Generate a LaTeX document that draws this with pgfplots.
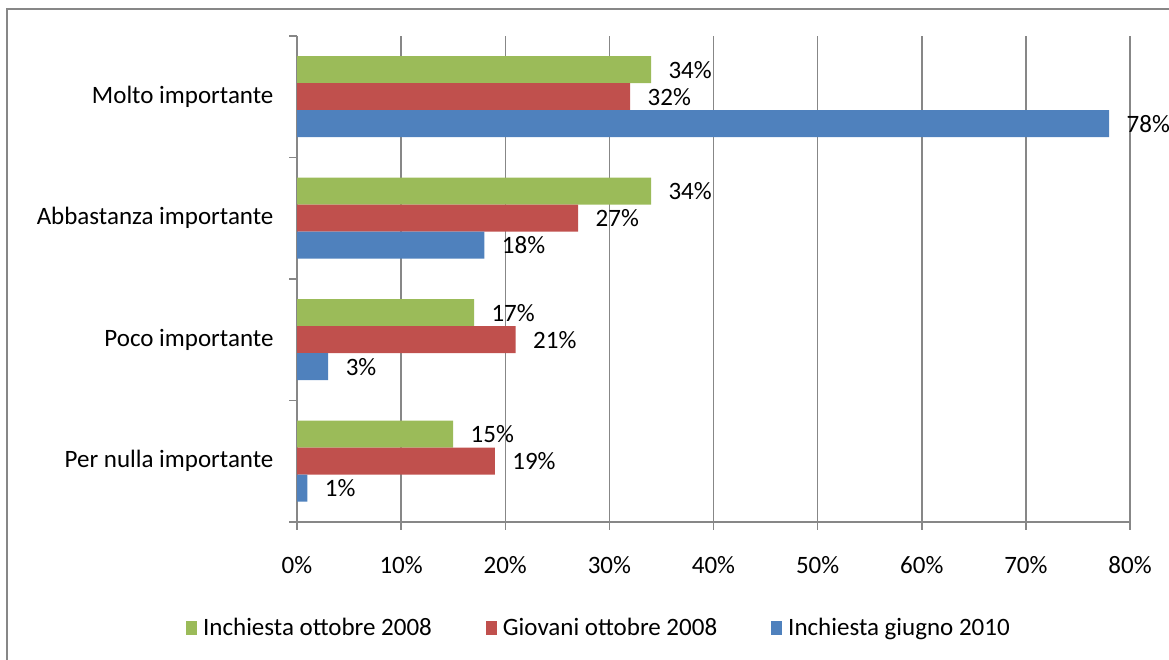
\documentclass[border=0pt]{standalone}
\usepackage{pgfplots}
\pgfplotsset{compat=1.18}
\usepackage{fontspec}
\setmainfont{Carlito}
\definecolor{cgreen}{HTML}{9BBB59}
\definecolor{cred}{HTML}{C0504D}
\definecolor{cblue}{HTML}{4F81BD}
\definecolor{cgrid}{HTML}{878787}
\begin{document}
\begin{tikzpicture}[x=1pt,y=1pt,font=\fontsize{25}{30}\selectfont]
\useasboundingbox (0,0) rectangle (1169,660);
\draw[cgrid, line width=1.5pt] (7,651) rectangle (1200,-20);
\begin{axis}[
  at={(297pt,138pt)}, anchor=south west,
  scale only axis, width=833pt, height=486pt,
  xbar, bar width=27pt,
  xmin=0, xmax=80, ymin=-0.5, ymax=3.5,
  xtick={0,10,...,80},
  xticklabels={0\%,10\%,20\%,30\%,40\%,50\%,60\%,70\%,80\%},
  ytick={0,1,2,3},
  yticklabels={Per nulla importante,Poco importante,Abbastanza importante,Molto importante},
  minor xtick={0,10,...,80},
  minor ytick={-0.5,0.5,1.5,2.5,3.5},
  major tick length=0pt, minor tick length=8pt, tick align=outside,
  tick style={cgrid, line width=1.5pt},
  xmajorgrids, grid style={cgrid, line width=1.5pt},
  axis x line*=bottom, axis y line*=left,
  axis line style={cgrid, line width=1.5pt, -},
  xticklabel style={yshift=-31pt},
  yticklabel style={xshift=-20pt},
  /pgf/number format/assume math mode=true,
  point meta=x,
  nodes near coords={\pgfmathprintnumber{\pgfplotspointmeta}\%},
  every node near coord/.append style={anchor=west, xshift=14pt, black},
  legend columns=3,
  legend style={at={(0.3625,-0.218)}, anchor=center, draw=none, fill=none,
    /tikz/every odd column/.append style={column sep=4pt},
    /tikz/every even column/.append style={column sep=52pt}},
  legend cell align=left,
  legend image code/.code={\fill[#1] (0pt,-7pt) rectangle (11pt,7pt);},
]
\addplot[fill=cgreen, draw=none, bar shift=27pt] coordinates {(34,3) (34,2) (17,1) (15,0)};
\addplot[fill=cred, draw=none, bar shift=0pt] coordinates {(32,3) (27,2) (21,1) (19,0)};
\addplot[fill=cblue, draw=none, bar shift=-27pt] coordinates {(78,3) (18,2) (3,1) (1,0)};
\legend{Inchiesta ottobre 2008,Giovani ottobre 2008,Inchiesta giugno 2010}
\end{axis}
\end{tikzpicture}
\end{document}
